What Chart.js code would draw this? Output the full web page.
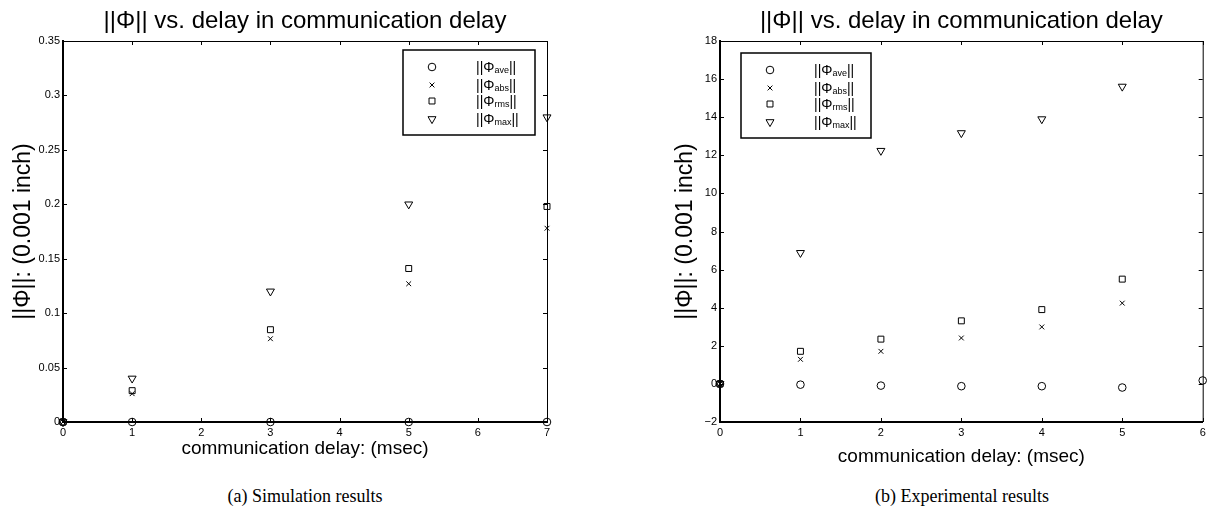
<!DOCTYPE html>
<html>
<head>
<meta charset="utf-8">
<script src="https://cdn.jsdelivr.net/npm/chart.js@4"></script>
<style>
html, body { margin: 0; padding: 0; background: #fff; }
body { width: 1211px; height: 521px; position: relative; overflow: hidden; }
.painel { position: absolute; top: 0; height: 470px; }
.legenda {
    position: absolute; top: 486px; width: 300px; text-align: center;
    font-family: "Liberation Serif", "DejaVu Serif", serif; font-size: 18px; color: #000;
}
</style>
</head>
<body>
<div class="painel" style="left:0; width:596px"><canvas id="simChart" width="596" height="470"></canvas></div>
<div class="painel" style="left:640px; width:571px"><canvas id="expChart" width="571" height="470"></canvas></div>
<div class="legenda" style="left:155px">(a) Simulation results</div>
<div class="legenda" style="left:812px">(b) Experimental results</div>
<script>
// =========================================
// DADOS
// =========================================
const tituloGrafico = "||Φ|| vs. delay in communication delay";
const tituloX = "communication delay: (msec)";
const tituloY = "||Φ||: (0.001 inch)";
const nomesSeries = ["ave", "abs", "rms", "max"];

// (a) simulação
const simDelay = [0, 1, 3, 5, 7];
const simAve = [0, 0, 0, 0, 0];
const simAbs = [0, 0.026, 0.0765, 0.127, 0.178];
const simRms = [0, 0.0288, 0.0848, 0.141, 0.198];
const simMax = [0, 0.04, 0.12, 0.2, 0.28];
const simXTicks = [0, 1, 2, 3, 4, 5, 6, 7];
const simYTicks = [0, 0.05, 0.1, 0.15, 0.2, 0.25, 0.3, 0.35];

// (b) experimental
const expDelay = [0, 1, 2, 3, 4, 5, 6];
const expAve = [0, -0.04, -0.09, -0.12, -0.12, -0.19, 0.18];
const expAbs = [0, 1.29, 1.71, 2.41, 2.99, 4.24];
const expRms = [0, 1.71, 2.35, 3.31, 3.9, 5.5];
const expMax = [0, 6.88, 12.24, 13.17, 13.9, 15.61];
const expXTicks = [0, 1, 2, 3, 4, 5, 6];
const expYTicks = [-2, 0, 2, 4, 6, 8, 10, 12, 14, 16, 18];

// estilo dos marcadores (estilo MATLAB: o, x, quadrado, triângulo para baixo)
const marcadores = [
    { pointStyle: "circle", pointRadius: 3.8, pointRotation: 0 },
    { pointStyle: "crossRot", pointRadius: 3.4, pointRotation: 0 },
    { pointStyle: "rect", pointRadius: 4.2, pointRotation: 0 },
    { pointStyle: "triangle", pointRadius: 4.6, pointRotation: 180 }
];

Chart.defaults.font.family = '"Liberation Sans", Arial, sans-serif';
Chart.defaults.color = "#000";

// junta x e y em pontos {x, y}
function pontos(xs, ys) {
    return ys.map((v, i) => ({ x: xs[i], y: v }));
}

function montarDatasets(xs, series) {
    return series.map((ys, i) => ({
        label: nomesSeries[i],
        data: pontos(xs, ys),
        showLine: false,
        pointStyle: marcadores[i].pointStyle,
        pointRadius: marcadores[i].pointRadius,
        pointHoverRadius: marcadores[i].pointRadius,
        pointRotation: marcadores[i].pointRotation,
        borderColor: "#000",
        backgroundColor: "rgba(0,0,0,0)",
        pointBorderWidth: 1,
        clip: false
    }));
}

// =========================================
// PLUGIN: marcas internas + caixa superior/direita
// =========================================
const marcasPlugin = {
    id: "marcasInternas",
    afterDraw(chart) {
        const { ctx, chartArea: a, scales } = chart;
        const t = 4;
        ctx.save();
        ctx.strokeStyle = "#000";
        ctx.lineWidth = 1;
        ctx.beginPath();
        ctx.moveTo(a.left, a.top + 0.5);
        ctx.lineTo(a.right + 0.5, a.top + 0.5);
        ctx.lineTo(a.right + 0.5, a.bottom);
        scales.x.ticks.forEach(tk => {
            const px = Math.round(scales.x.getPixelForValue(tk.value)) + 0.5;
            ctx.moveTo(px, a.bottom); ctx.lineTo(px, a.bottom - t);
            ctx.moveTo(px, a.top); ctx.lineTo(px, a.top + t);
        });
        scales.y.ticks.forEach(tk => {
            const py = Math.round(scales.y.getPixelForValue(tk.value)) + 0.5;
            ctx.moveTo(a.left, py); ctx.lineTo(a.left + t, py);
            ctx.moveTo(a.right, py); ctx.lineTo(a.right - t, py);
        });
        ctx.stroke();
        ctx.restore();
    }
};

// =========================================
// PLUGIN: legenda com subscritos
// =========================================
const legendaPlugin = {
    id: "legendaPhi",
    afterDraw(chart, args, opts) {
        const { ctx, chartArea: a } = chart;
        const x0 = opts.fromRight ? a.right - opts.dx - opts.w : a.left + opts.dx;
        const y0 = a.top + opts.dy;
        ctx.save();
        ctx.fillStyle = "#fff";
        ctx.fillRect(x0, y0, opts.w, opts.h);
        ctx.strokeStyle = "#000";
        ctx.lineWidth = 1.5;
        ctx.strokeRect(x0, y0, opts.w, opts.h);
        const linhas = [17, 35, 51, 69];
        chart.data.datasets.forEach((ds, i) => {
            const yy = y0 + linhas[i];
            ctx.strokeStyle = "#000";
            ctx.fillStyle = "rgba(0,0,0,0)";
            ctx.lineWidth = 1;
            Chart.helpers.drawPoint(ctx, {
                pointStyle: ds.pointStyle,
                radius: ds.pointRadius,
                rotation: ds.pointRotation,
                borderWidth: 1
            }, x0 + 29, yy);
            // texto ||Φ_sub||
            ctx.fillStyle = "#000";
            ctx.textBaseline = "alphabetic";
            let tx = x0 + 73;
            const base = yy + 5;
            ctx.font = '14px "Liberation Sans", Arial, sans-serif';
            ctx.fillText("||Φ", tx, base);
            tx += ctx.measureText("||Φ").width;
            ctx.font = '9px "Liberation Sans", Arial, sans-serif';
            ctx.fillText(ds.label, tx, base + 1);
            tx += ctx.measureText(ds.label).width;
            ctx.font = '14px "Liberation Sans", Arial, sans-serif';
            ctx.fillText("||", tx, base);
        });
        ctx.restore();
    }
};

function criarGrafico(id, xs, series, cfg) {
    const el = document.getElementById(id);
    return new Chart(el, {
        type: "scatter",
        data: { datasets: montarDatasets(xs, series) },
        plugins: [marcasPlugin, legendaPlugin],
        options: {
            responsive: false,
            devicePixelRatio: 1,
            animation: false,
            events: [],
            layout: { padding: { left: 0, right: cfg.padRight, top: 0, bottom: 0 } },
            plugins: {
                legend: { display: false },
                tooltip: { enabled: false },
                title: {
                    display: true,
                    text: tituloGrafico,
                    fullSize: false,
                    color: "#000",
                    font: { size: 24, weight: "normal" },
                    padding: { top: 6.5, bottom: 5.7 }
                },
                legendaPhi: cfg.legenda
            },
            scales: {
                x: {
                    type: "linear",
                    min: cfg.xTicks[0],
                    max: cfg.xTicks[cfg.xTicks.length - 1],
                    afterBuildTicks: s => { s.ticks = cfg.xTicks.map(v => ({ value: v })); },
                    afterFit: s => { s.height = 48; },
                    grid: { display: false, drawTicks: false },
                    border: { display: true, color: "#000", width: 2 },
                    ticks: { padding: 4, font: { size: 11 }, maxRotation: 0, callback: v => String(v) },
                    title: {
                        display: true, text: tituloX, color: "#000",
                        font: { size: 19 }, padding: { top: 0, bottom: cfg.xTitlePad }
                    }
                },
                y: {
                    type: "linear",
                    min: cfg.yTicks[0],
                    max: cfg.yTicks[cfg.yTicks.length - 1],
                    afterBuildTicks: s => { s.ticks = cfg.yTicks.map(v => ({ value: v })); },
                    afterFit: s => { s.width = cfg.yWidth; },
                    grid: { display: false, drawTicks: false },
                    border: { display: true, color: "#000", width: 2 },
                    ticks: {
                        padding: 3, font: { size: 11 },
                        callback: v => (v < 0 ? "\u2212" + String(-v) : String(+v.toFixed(2)))
                    },
                    title: {
                        display: true, text: tituloY, color: "#000",
                        font: { size: 23 }, padding: { top: cfg.yTitlePad, bottom: 0 }
                    }
                }
            }
        }
    });
}

window.addEventListener("DOMContentLoaded", () => {
    criarGrafico("simChart", simDelay, [simAve, simAbs, simRms, simMax], {
        padRight: 49, yWidth: 63, xTitlePad: 9.6, yTitlePad: 9.5,
        xTicks: simXTicks, yTicks: simYTicks,
        legenda: { fromRight: true, dx: 12, dy: 9, w: 132, h: 85 }
    });
    criarGrafico("expChart", expDelay, [expAve, expAbs, expRms, expMax], {
        padRight: 8.3, yWidth: 80, xTitlePad: 2.1, yTitlePad: 31.5,
        xTicks: expXTicks, yTicks: expYTicks,
        legenda: { fromRight: false, dx: 21, dy: 12, w: 130, h: 85 }
    });
});
</script>
</body>
</html>
